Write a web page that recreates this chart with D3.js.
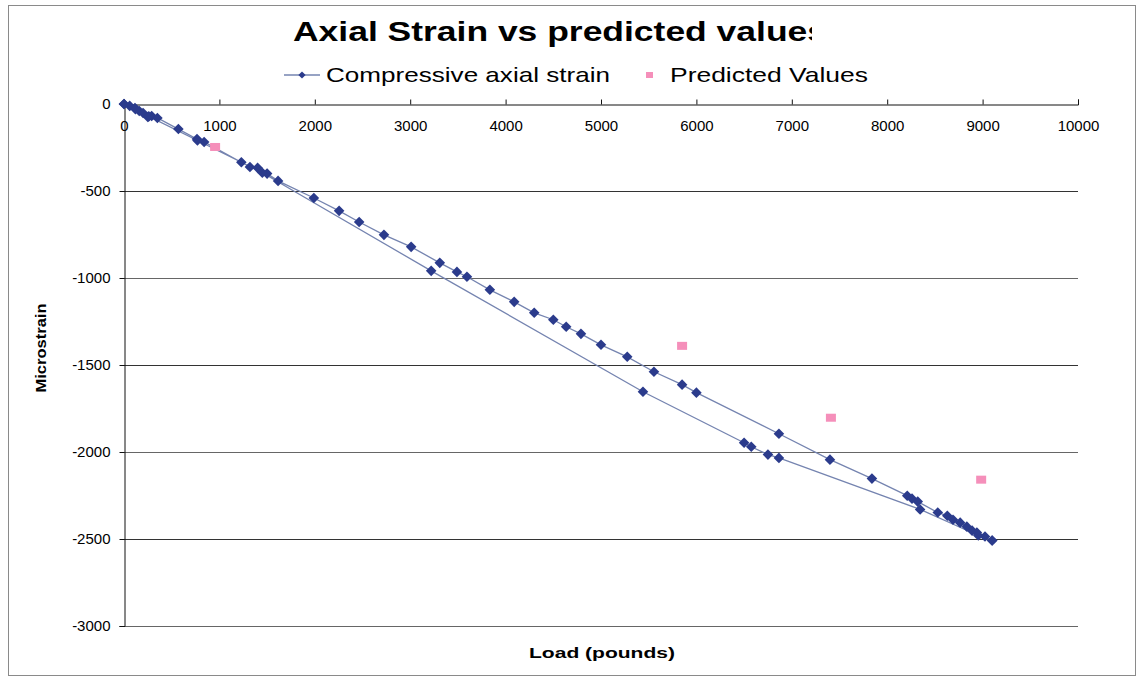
<!DOCTYPE html>
<html>
<head>
	<meta charset="utf-8">
	<title>Axial Strain vs predicted values</title>
	<script src="https://d3js.org/d3.v7.min.js"></script>
	<style>
		body { margin: 0; background: #fff; }
		text { font-family: Arial, 'Liberation Sans', sans-serif; }
	</style>
</head>
<body>
	<div class="chart"></div>

	<script type="text/javascript">
		// loading branch (0 -> max load)
		const loadingLoad = [0, 60, 115, 160, 200, 250, 290, 350, 570, 765, 840, 1320, 1400, 1500, 1615, 1990, 2255, 2465, 2725, 3010, 3310, 3490, 3595, 3835, 4090, 4300, 4500, 4635, 4790, 5000, 5275, 5555, 5850, 6000, 6865, 7400, 7840, 8210, 8260, 8320, 8530, 8630, 8690, 8765, 8835, 8890, 8940, 9025, 9100]
		const loadingStrain = [0, -11, -23, -40, -52, -75, -69, -80, -144, -201, -218, -362, -367, -400, -442, -540, -614, -678, -752, -821, -913, -965, -993, -1068, -1137, -1200, -1240, -1280, -1321, -1384, -1453, -1539, -1613, -1659, -1895, -2044, -2153, -2251, -2268, -2285, -2348, -2366, -2389, -2406, -2429, -2452, -2463, -2486, -2509]

		// unloading branch (max load -> 0)
		const unloadingLoad = [9100, 8955, 8345, 6865, 6750, 6575, 6500, 5440, 3220, 1450, 1230, 770, 260, 120, 0]
		const unloadingStrain = [-2509, -2480, -2330, -2034, -2015, -1970, -1947, -1654, -959, -395, -335, -210, -71, -30, 0]

		const predictedLoad = [955, 5850, 7410, 8985]
		const predictedStrain = [-247, -1390, -1803, -2159]

		const xTicks = [0, 1000, 2000, 3000, 4000, 5000, 6000, 7000, 8000, 9000, 10000]
		const yTicks = [0, -500, -1000, -1500, -2000, -2500, -3000]

		const width = 1143
		const height = 681
		const plot = { left: 124, right: 1078, top: 104, bottom: 626 }

		const svg = d3.select('.chart').append('svg')
			.attr('width', width)
			.attr('height', height)

		// chart area border
		svg.append('rect')
			.attr('x', 8.5).attr('y', 5.5)
			.attr('width', 1127).attr('height', 670)
			.attr('fill', 'none')
			.attr('stroke', '#8a8a8a')

		const xScale = d3.scaleLinear().domain([0, 10000]).range([plot.left, plot.right])
		const yScale = d3.scaleLinear().domain([0, -3000]).range([plot.top, plot.bottom])

		// gridlines
		svg.append('g')
			.selectAll('line')
			.data(yTicks.filter(d => d !== 0))
			.join('line')
			.attr('x1', plot.left).attr('x2', plot.right)
			.attr('y1', d => yScale(d) + 0.5).attr('y2', d => yScale(d) + 0.5)
			.attr('stroke', (d, i) => i % 2 ? '#666' : '#333')
			.attr('stroke-width', 1)

		// x axis sits on y = 0, ticks up, labels below
		const xAxis = d3.axisBottom(xScale)
			.tickValues(xTicks)
			.tickSizeInner(-5)
			.tickSizeOuter(-5)
			.tickPadding(16)
			.tickFormat(d => String(d))

		const gx = svg.append('g')
			.attr('transform', `translate(0, ${yScale(0) + 0.5})`)
			.call(xAxis)
		gx.selectAll('text').attr('font-size', 15).attr('fill', '#000')
		gx.selectAll('line, path').attr('stroke', '#111')

		const yAxis = d3.axisLeft(yScale)
			.tickValues(yTicks)
			.tickSize(5)
			.tickPadding(9)
			.tickFormat(d => String(d))

		const gy = svg.append('g')
			.attr('transform', `translate(${plot.left + 0.5}, 0)`)
			.call(yAxis)
		gy.selectAll('text').attr('font-size', 15).attr('fill', '#000')
		gy.selectAll('line, path').attr('stroke', '#111')

		// series
		const series = loadingLoad.map((d, i) => ({ load: d, strain: loadingStrain[i] }))
			.concat(unloadingLoad.map((d, i) => ({ load: d, strain: unloadingStrain[i] })))

		const line = d3.line()
			.x(d => xScale(d.load))
			.y(d => yScale(d.strain))

		svg.append('path')
			.attr('d', line(series))
			.attr('fill', 'none')
			.attr('stroke', '#7584b0')
			.attr('stroke-width', 1.3)

		const diamond = d3.symbol().type(d3.symbolSquare).size(56)

		svg.append('g')
			.selectAll('path')
			.data(series)
			.join('path')
			.attr('d', diamond)
			.attr('transform', d => `translate(${xScale(d.load)}, ${yScale(d.strain)}) rotate(45)`)
			.attr('fill', '#2b3b8c')

		const predicted = predictedLoad.map((d, i) => ({ load: d, strain: predictedStrain[i] }))

		svg.append('g')
			.selectAll('rect')
			.data(predicted)
			.join('rect')
			.attr('x', d => xScale(d.load) - 5)
			.attr('y', d => yScale(d.strain) - 4)
			.attr('width', 10)
			.attr('height', 8)
			.attr('fill', '#f58fba')

		// title (cut off on the right like the original)
		svg.append('clipPath').attr('id', 'titleClip')
			.append('rect').attr('x', 0).attr('y', 0).attr('width', 812).attr('height', 60)

		svg.append('text')
			.attr('clip-path', 'url(#titleClip)')
			.attr('x', 293).attr('y', 41)
			.attr('font-size', 27)
			.attr('font-weight', 'bold')
			.attr('textLength', 534)
			.attr('lengthAdjust', 'spacingAndGlyphs')
			.text('Axial Strain vs predicted values')

		// legend
		const legend = svg.append('g')
		legend.append('line')
			.attr('x1', 284).attr('x2', 320).attr('y1', 75).attr('y2', 75)
			.attr('stroke', '#7584b0').attr('stroke-width', 1.3)
		legend.append('path')
			.attr('d', d3.symbol().type(d3.symbolSquare).size(26))
			.attr('transform', 'translate(302, 75) rotate(45)')
			.attr('fill', '#2b3b8c')
		legend.append('text')
			.attr('x', 326).attr('y', 82)
			.attr('font-size', 21)
			.attr('textLength', 284)
			.attr('lengthAdjust', 'spacingAndGlyphs')
			.text('Compressive axial strain')
		legend.append('rect')
			.attr('x', 646).attr('y', 72).attr('width', 7).attr('height', 6)
			.attr('fill', '#f58fba')
		legend.append('text')
			.attr('x', 670).attr('y', 82)
			.attr('font-size', 21)
			.attr('textLength', 198)
			.attr('lengthAdjust', 'spacingAndGlyphs')
			.text('Predicted Values')

		// axis titles
		svg.append('text')
			.attr('x', 602).attr('y', 658)
			.attr('text-anchor', 'middle')
			.attr('font-size', 15)
			.attr('font-weight', 'bold')
			.attr('textLength', 146)
			.attr('lengthAdjust', 'spacingAndGlyphs')
			.text('Load (pounds)')

		svg.append('text')
			.attr('transform', 'translate(46, 348) rotate(-90)')
			.attr('text-anchor', 'middle')
			.attr('font-size', 15)
			.attr('font-weight', 'bold')
			.attr('textLength', 89)
			.attr('lengthAdjust', 'spacingAndGlyphs')
			.text('Microstrain')
	</script>
</body>
</html>
